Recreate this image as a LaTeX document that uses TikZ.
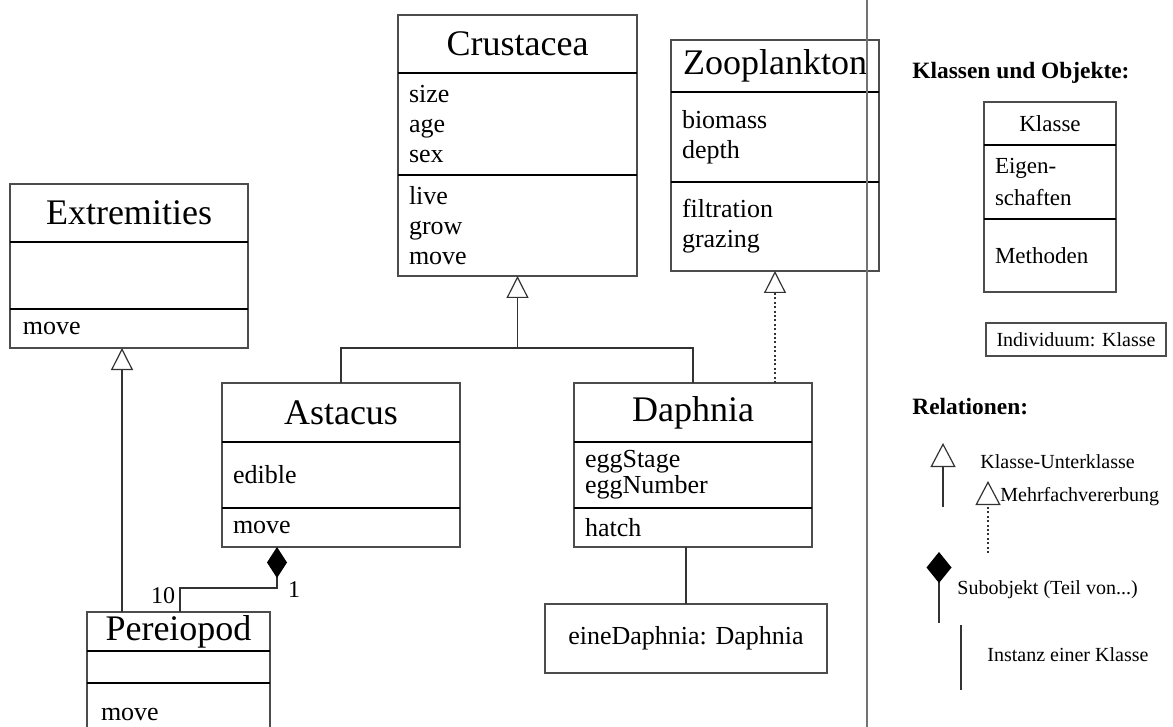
\documentclass[tikz,border=0pt]{standalone}
\usepackage{fontspec}
\setmainfont{Liberation Serif}
\usetikzlibrary{arrows.meta}
\frenchspacing
\tikzset{
  umlbox/.style={draw=black!70, line width=0.6pt, rectangle, inner ysep=0pt, inner xsep=5.5pt, outer sep=0pt, anchor=north west},
  umlhd/.style={umlbox, align=center, font=\fontsize{18}{20}\selectfont},
  umlcm/.style={umlbox, align=left, font=\fontsize{13}{15}\selectfont},
  umllg/.style={umlbox, align=left, font=\fontsize{11.5}{16}\selectfont},
  sepl/.style={draw=black, line width=1pt},
  conn/.style={draw=black!80, line width=0.6pt},
  gen/.style={conn, -{Triangle[open, length=11pt, width=11pt]}},
  genl/.style={conn, -{Triangle[open, length=12pt, width=12.5pt]}},
  dotl/.style={dash pattern=on 1pt off 1.2pt},
  agg/.style={conn, {Diamond[length=15.5pt, width=10pt, color=black, fill=black]}-},
  aggl/.style={conn, {Diamond[length=15.5pt, width=12.5pt, color=black, fill=black]}-},
  lbl/.style={anchor=west, inner sep=0pt, font=\fontsize{10}{12}\selectfont},
  hdg/.style={anchor=west, inner sep=0pt, font=\fontsize{11.7}{14}\selectfont\bfseries},
  multlbl/.style={inner sep=0pt, font=\fontsize{12}{14}\selectfont},
}
\begin{document}
\begin{tikzpicture}[x=0.5pt, y=-0.5pt]
\useasboundingbox (0,0) rectangle (1173,727);
\clip (0,0) rectangle (1173,727);
\fill[white] (0,0) rectangle (1173,727);

% Crustacea
\node[umlhd, minimum width=119.5pt, minimum height=29pt, text width=108.5pt] (crH) at (398,15) {Crustacea};
\node[umlcm, minimum width=119.5pt, minimum height=51pt, text width=108.5pt] (crA) at (398,73) {size\\age\\sex};
\node[umlcm, minimum width=119.5pt, minimum height=50.5pt, text width=108.5pt] (crM) at (398,175) {live\\grow\\move};
% Zooplankton
\node[umlhd, minimum width=104pt, minimum height=26pt, text width=93pt] (zpH) at (671,40) {Zooplankton};
\node[umlcm, minimum width=104pt, minimum height=45pt, text width=93pt] (zpA) at (671,92) {biomass\\depth};
\node[umlcm, minimum width=104pt, minimum height=44.5pt, text width=93pt] (zpM) at (671,182) {filtration\\grazing};
% Extremities
\node[umlhd, minimum width=119pt, minimum height=29pt, text width=108pt] (exH) at (10,184) {Extremities};
\node[umlcm, minimum width=119pt, minimum height=33.5pt, text width=108pt] (exA) at (10,242) {};
\node[umlcm, inner xsep=6.5pt, minimum width=119pt, minimum height=19.5pt, text width=106pt] (exM) at (10,309) {move};
% Astacus
\node[umlhd, minimum width=119pt, minimum height=29.5pt, text width=108pt] (asH) at (222,383) {Astacus};
\node[umlcm, minimum width=119pt, minimum height=33pt, text width=108pt] (asA) at (222,442) {edible};
\node[umlcm, minimum width=119pt, minimum height=19.5pt, text width=108pt] (asM) at (222,508) {move};
% Daphnia
\node[umlhd, minimum width=119pt, minimum height=29.5pt, text width=108pt] (dpH) at (574,383) {Daphnia};
\node[umlcm, font=\fontsize{13}{11.5}\selectfont, minimum width=119pt, minimum height=33pt, text width=108pt] (dpA) at (574,442) {eggStage\\eggNumber};
\node[umlcm, minimum width=119pt, minimum height=19.5pt, text width=108pt] (dpM) at (574,508) {hatch};
% Pereiopod
\node[umlhd, minimum width=91.5pt, minimum height=19.5pt, text width=80.5pt] (peH) at (87,612) {Pereiopod};
\node[umlcm, minimum width=91.5pt, minimum height=16pt, text width=80.5pt] (peA) at (87,651) {};
\node[umlcm, inner xsep=7pt, minimum width=91.5pt, minimum height=31pt, text width=77.5pt] (peM) at (87,683) {move};
% eineDaphnia
\node[umlcm, align=center, minimum width=141pt, minimum height=34.5pt, text width=130pt] (ed) at (545,604) {eineDaphnia: Daphnia};

% compartment separators
\foreach \n in {crA,crM,zpA,zpM,exA,exM,asA,asM,dpA,dpM,peA,peM}
  \draw[sepl] (\n.north west) -- (\n.north east);

% generalisation Crustacea
\coordinate (j1) at (517.5,348);
\draw[conn] (asH.north) -- (asH.north |- j1) -- (dpH.north |- j1) -- (dpH.north);
\draw[gen] (j1) -- (crM.south);
% multiple inheritance Zooplankton
\draw[gen, dotl] (dpH.north -| zpM.south) -- (zpM.south);
% Extremities
\coordinate (ex) at (122,0);
\draw[gen] (peH.north -| ex) -- (exM.south -| ex);
% aggregation
\coordinate (ag1) at (277,588);
\coordinate (ag2) at (180,588);
\draw[agg] (asM.south -| ag1) -- (ag1) -- (ag2) -- (peH.north -| ag2);
\node[multlbl] (m1) at (294,590) {1};
\node[multlbl] (m10) at (163,596) {10};
% instance
\draw[conn] (dpM.south -| ed.north) -- (ed.north);

% divider
\coordinate (d1) at (867,0);
\coordinate (d2) at (867,727);
\draw[draw=black!55, line width=1pt] (d1) -- (d2);

% legend
\node[hdg] (h1) at (912,73) {Klassen und Objekte:};
\node[umllg, align=center, minimum width=66pt, minimum height=21.5pt, text width=55pt] (kH) at (984,102) {Klasse};
\node[umllg, minimum width=66pt, minimum height=37pt, text width=55pt] (kA) at (984,145) {Eigen-\\schaften};
\node[umllg, minimum width=66pt, minimum height=36.5pt, text width=55pt] (kM) at (984,219) {Methoden};
\draw[sepl] (kA.north west) -- (kA.north east);
\draw[sepl] (kM.north west) -- (kM.north east);
\node[umlbox, align=center, inner xsep=1pt, font=\fontsize{10}{12}\selectfont, minimum width=90pt, minimum height=16.5pt, text width=88pt] (ind) at (986,323) {Individuum: Klasse};

\node[hdg] (h2) at (912,407) {Relationen:};
\coordinate (r1a) at (943,507);
\coordinate (r1b) at (943,443);
\draw[genl] (r1a) -- (r1b);
\node[lbl] (t1) at (980,462) {Klasse-Unterklasse};
\coordinate (r2a) at (988,553);
\coordinate (r2b) at (988,481);
\draw[genl, dotl] (r2a) -- (r2b);
\node[lbl] (t2) at (1000,497) {Mehrfachvererbung};
\coordinate (r3a) at (939,552);
\coordinate (r3b) at (939,623);
\draw[aggl] (r3a) -- (r3b);
\node[lbl] (t3) at (957,590) {Subobjekt (Teil von...)};
\coordinate (r4a) at (961,625);
\coordinate (r4b) at (961,690);
\draw[conn] (r4a) -- (r4b);
\node[lbl] (t4) at (987,655) {Instanz einer Klasse};
\end{tikzpicture}
\end{document}
